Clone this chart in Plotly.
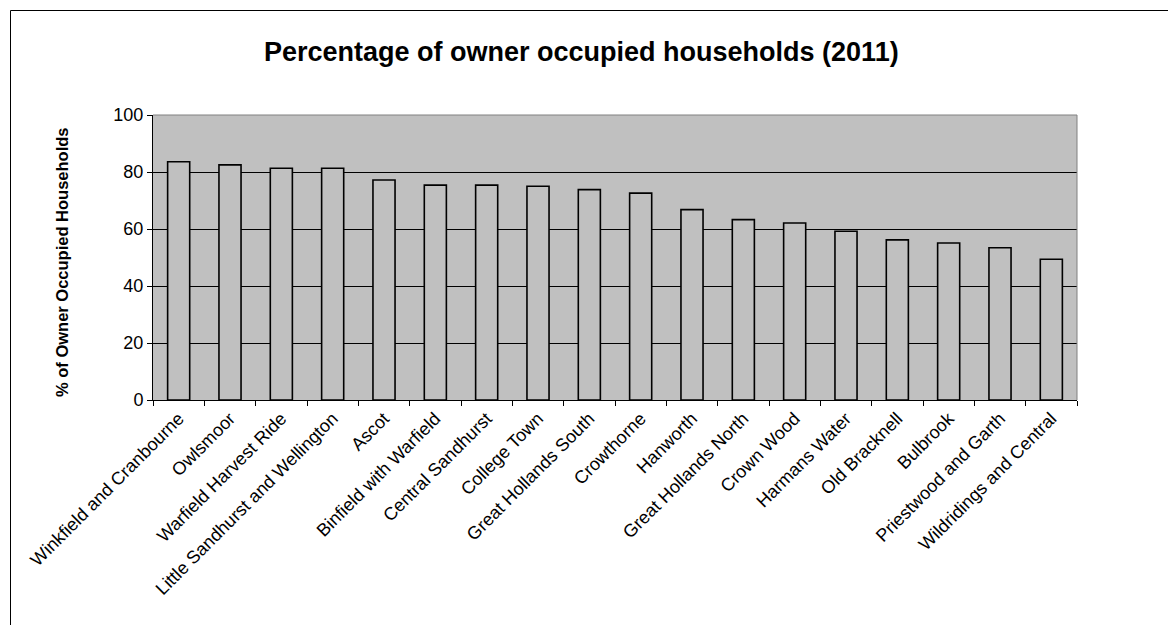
import plotly.graph_objects as go

wards = ["Winkfield and Cranbourne", "Owlsmoor", "Warfield Harvest Ride",
         "Little Sandhurst and Wellington", "Ascot", "Binfield with Warfield",
         "Central Sandhurst", "College Town", "Great Hollands South", "Crowthorne",
         "Hanworth", "Great Hollands North", "Crown Wood", "Harmans Water",
         "Old Bracknell", "Bulbrook", "Priestwood and Garth", "Wildridings and Central"]
owner_pct = [83.6, 82.5, 81.3, 81.3, 77.2, 75.4, 75.4, 75.0, 73.8, 72.6,
             66.8, 63.3, 62.1, 59.2, 56.2, 55.1, 53.4, 49.4]
y_ticks = [0, 20, 40, 60, 80, 100]

W, H = 1168, 625
L, R, T, B = 153, 1077, 115, 400

FONT = "Arial, Liberation Sans, sans-serif"

fig = go.Figure(go.Bar(
    x=wards, y=owner_pct,
    marker=dict(color="#C0C0C0", line=dict(color="black", width=1.6)),
    width=0.43,
))

def px_to_paper_x(px):
    return (px - L) / (R - L)

def px_to_paper_y(py):
    return (B - py) / (B - T)

fig.update_layout(
    width=W, height=H,
    margin=dict(l=L, r=W - R, t=T, b=H - B, pad=0),
    paper_bgcolor="white", plot_bgcolor="#C0C0C0",
    font=dict(family=FONT, size=18, color="black"),
    showlegend=False,
    xaxis=dict(type="category", tickangle=-45, showgrid=False,
               showline=True, linecolor="black", linewidth=1,
               ticks="outside", ticklen=5, tickcolor="black", tickson="boundaries",
               tickfont=dict(size=18)),
    yaxis=dict(range=[0, 100], tickvals=y_ticks, showgrid=True, gridcolor="black",
               gridwidth=1, showline=True, linecolor="black", linewidth=1,
               ticks="outside", ticklen=5, tickcolor="black", zeroline=False,
               tickfont=dict(size=18)),
    annotations=[
        dict(text="<b>Percentage of owner occupied households (2011)</b>",
             x=px_to_paper_x(581), y=px_to_paper_y(52), xref="paper", yref="paper",
             showarrow=False, font=dict(size=27), xanchor="center", yanchor="middle"),
        dict(text="<b>% of Owner Occupied Households</b>",
             x=px_to_paper_x(62), y=px_to_paper_y(262), xref="paper", yref="paper",
             showarrow=False, textangle=-90, font=dict(size=16.5),
             xanchor="center", yanchor="middle"),
    ],
    shapes=[
        # outer chart frame (left and top edges visible)
        dict(type="line", xref="paper", yref="paper",
             x0=px_to_paper_x(10.5), x1=px_to_paper_x(10.5),
             y0=px_to_paper_y(10.5), y1=px_to_paper_y(625),
             line=dict(color="black", width=1)),
        dict(type="line", xref="paper", yref="paper",
             x0=px_to_paper_x(10.5), x1=px_to_paper_x(1168),
             y0=px_to_paper_y(10.5), y1=px_to_paper_y(10.5),
             line=dict(color="black", width=1)),
        # plot area top / right border (grey)
        dict(type="line", xref="paper", yref="paper", x0=0, x1=1, y0=1, y1=1,
             line=dict(color="#808080", width=1)),
        dict(type="line", xref="paper", yref="paper", x0=1, x1=1, y0=0, y1=1,
             line=dict(color="#808080", width=1)),
    ],
)

fig.write_html(
    "out.html",
    config={"displayModeBar": False},
    post_script=("document.documentElement.style.overflow='hidden';"
                 "document.body.style.overflow='hidden';"
                 "document.body.style.margin='0';"),
)
